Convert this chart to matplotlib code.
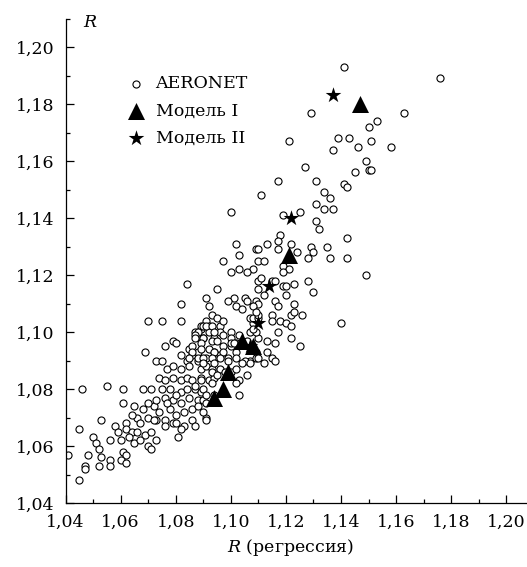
import matplotlib
matplotlib.use("Agg")
import matplotlib.pyplot as plt
from matplotlib.ticker import FuncFormatter
import numpy as np

plt.rcParams['font.family'] = ['DejaVu Serif']
plt.rcParams['mathtext.fontset'] = 'dejavuserif'

# AERONET points (x = R regression, y = R)
aeronet_top = [
    (1.141, 1.193), (1.176, 1.189), (1.163, 1.177), (1.153, 1.174), (1.150, 1.172),
    (1.139, 1.168), (1.143, 1.168), (1.137, 1.164), (1.146, 1.165), (1.151, 1.167),
    (1.158, 1.165), (1.149, 1.160), (1.150, 1.157), (1.151, 1.157), (1.145, 1.156),
    (1.129, 1.177), (1.121, 1.167), (1.127, 1.158),
]
aeronet_upper = [
    (1.117, 1.153), (1.131, 1.153), (1.141, 1.152), (1.142, 1.151), (1.111, 1.148),
    (1.134, 1.149), (1.136, 1.147), (1.131, 1.145), (1.134, 1.143), (1.137, 1.143),
    (1.119, 1.141), (1.125, 1.142), (1.131, 1.139), (1.132, 1.136), (1.118, 1.134),
    (1.117, 1.132), (1.142, 1.133), (1.113, 1.131), (1.109, 1.129), (1.110, 1.129),
    (1.117, 1.129), (1.122, 1.131), (1.129, 1.130), (1.130, 1.128), (1.128, 1.126),
    (1.135, 1.130), (1.124, 1.128), (1.136, 1.126), (1.142, 1.126), (1.110, 1.125),
    (1.112, 1.125), (1.108, 1.122), (1.119, 1.123), (1.121, 1.122), (1.119, 1.121),
    (1.110, 1.118), (1.111, 1.119), (1.128, 1.118), (1.149, 1.120), (1.115, 1.118),
    (1.116, 1.118), (1.119, 1.116), (1.120, 1.116), (1.123, 1.117), (1.110, 1.115),
    (1.112, 1.113), (1.130, 1.114), (1.120, 1.113), (1.116, 1.111), (1.117, 1.109),
    (1.109, 1.111), (1.110, 1.110), (1.123, 1.110),
    (1.100, 1.142), (1.102, 1.131), (1.103, 1.127), (1.097, 1.125), (1.100, 1.121),
    (1.103, 1.122), (1.106, 1.121), (1.101, 1.112), (1.105, 1.112),
    (1.084, 1.117), (1.095, 1.115), (1.091, 1.112),
]
aeronet_core = [
    (1.082, 1.110), (1.092, 1.109), (1.099, 1.111), (1.102, 1.109), (1.104, 1.108),
    (1.106, 1.111), (1.108, 1.109), (1.070, 1.104), (1.075, 1.104), (1.082, 1.104),
    (1.093, 1.106), (1.095, 1.105), (1.091, 1.104), (1.092, 1.102), (1.096, 1.102),
    (1.097, 1.104), (1.096, 1.100), (1.089, 1.101), (1.087, 1.100), (1.090, 1.098),
    (1.092, 1.100), (1.094, 1.098), (1.100, 1.100), (1.100, 1.098), (1.103, 1.099),
    (1.102, 1.096), (1.100, 1.095), (1.109, 1.105), (1.108, 1.103), (1.107, 1.100),
    (1.106, 1.097), (1.108, 1.094), (1.107, 1.090), (1.106, 1.085), (1.103, 1.083),
    (1.103, 1.078), (1.079, 1.097), (1.080, 1.096), (1.076, 1.095), (1.069, 1.093),
    (1.073, 1.090), (1.075, 1.090), (1.082, 1.092), (1.085, 1.094), (1.084, 1.090),
    (1.086, 1.092), (1.088, 1.093), (1.088, 1.090), (1.091, 1.091), (1.094, 1.093),
    (1.096, 1.092), (1.099, 1.091), (1.077, 1.087), (1.079, 1.088), (1.082, 1.087),
    (1.085, 1.088), (1.089, 1.087), (1.091, 1.088), (1.093, 1.087), (1.096, 1.087),
    (1.074, 1.084), (1.076, 1.083), (1.079, 1.084), (1.082, 1.083), (1.084, 1.084),
    (1.086, 1.083), (1.089, 1.084), (1.092, 1.083), (1.094, 1.084), (1.068, 1.080),
    (1.071, 1.080), (1.075, 1.080), (1.078, 1.080), (1.082, 1.079), (1.084, 1.080),
    (1.087, 1.080), (1.089, 1.079), (1.076, 1.077), (1.079, 1.076), (1.082, 1.075),
    (1.085, 1.077), (1.088, 1.076), (1.090, 1.076), (1.065, 1.074), (1.068, 1.073),
    (1.072, 1.074), (1.074, 1.072), (1.078, 1.073), (1.080, 1.071), (1.083, 1.072),
    (1.086, 1.073), (1.088, 1.074), (1.091, 1.070), (1.066, 1.070), (1.070, 1.070),
    (1.073, 1.069), (1.076, 1.069), (1.079, 1.068), (1.083, 1.067), (1.086, 1.069),
    (1.087, 1.067),
]
aeronet_core2 = [
    (1.089, 1.102), (1.090, 1.102), (1.091, 1.102), (1.093, 1.102), (1.088, 1.100),
    (1.094, 1.100), (1.097, 1.099), (1.087, 1.099), (1.087, 1.098), (1.090, 1.098),
    (1.093, 1.097), (1.095, 1.097), (1.100, 1.096), (1.101, 1.096), (1.089, 1.096),
    (1.086, 1.095), (1.097, 1.095), (1.086, 1.093), (1.089, 1.094), (1.092, 1.094),
    (1.094, 1.093), (1.097, 1.093), (1.102, 1.093), (1.085, 1.091), (1.088, 1.091),
    (1.090, 1.091), (1.093, 1.091), (1.096, 1.091), (1.099, 1.090), (1.102, 1.091),
    (1.105, 1.090), (1.104, 1.089), (1.090, 1.089), (1.094, 1.089), (1.098, 1.086),
    (1.100, 1.086), (1.102, 1.087), (1.093, 1.086), (1.095, 1.085), (1.089, 1.083),
    (1.093, 1.082), (1.102, 1.082), (1.090, 1.080), (1.091, 1.078), (1.094, 1.078),
    (1.091, 1.075), (1.090, 1.072), (1.091, 1.069), (1.087, 1.081), (1.109, 1.093),
    (1.109, 1.091), (1.110, 1.091), (1.107, 1.089), (1.110, 1.098), (1.109, 1.100),
    (1.108, 1.101), (1.107, 1.105), (1.108, 1.105), (1.110, 1.105),
]
aeronet_low = [
    (1.046, 1.080), (1.055, 1.081), (1.061, 1.080), (1.061, 1.075), (1.062, 1.068),
    (1.053, 1.069), (1.058, 1.067), (1.059, 1.065), (1.062, 1.066), (1.064, 1.065),
    (1.066, 1.065), (1.069, 1.064), (1.071, 1.065), (1.073, 1.062), (1.045, 1.066),
    (1.050, 1.063), (1.051, 1.061), (1.052, 1.059), (1.056, 1.062), (1.060, 1.062),
    (1.063, 1.063), (1.065, 1.061), (1.067, 1.062), (1.070, 1.060), (1.071, 1.059),
    (1.061, 1.058), (1.062, 1.057), (1.060, 1.055), (1.062, 1.054), (1.041, 1.057),
    (1.048, 1.057), (1.047, 1.053), (1.047, 1.052), (1.053, 1.056), (1.052, 1.053),
    (1.056, 1.055), (1.056, 1.053), (1.045, 1.048), (1.081, 1.063), (1.082, 1.066),
    (1.064, 1.071), (1.067, 1.068), (1.072, 1.069), (1.070, 1.075), (1.073, 1.076),
    (1.077, 1.075), (1.080, 1.078), (1.076, 1.067), (1.080, 1.068),
]
aeronet_right = [
    (1.115, 1.106), (1.122, 1.106), (1.126, 1.106), (1.140, 1.103), (1.118, 1.104),
    (1.115, 1.104), (1.120, 1.103), (1.122, 1.102), (1.117, 1.100), (1.122, 1.098),
    (1.113, 1.097), (1.125, 1.095), (1.116, 1.096), (1.113, 1.093), (1.115, 1.091),
    (1.116, 1.090), (1.112, 1.089), (1.123, 1.107), (1.110, 1.106), (1.109, 1.107),
]

# model results
model1_x = [1.147, 1.121, 1.104, 1.108, 1.099, 1.097, 1.094]
model1_y = [1.180, 1.127, 1.097, 1.095, 1.086, 1.080, 1.077]
model2_x = [1.137, 1.122, 1.114, 1.110, 1.107]
model2_y = [1.183, 1.140, 1.116, 1.103, 1.095]

ticks = [1.04, 1.06, 1.08, 1.10, 1.12, 1.14, 1.16, 1.18, 1.20]

aer = np.array(aeronet_top + aeronet_upper + aeronet_core + aeronet_core2
               + aeronet_low + aeronet_right)

fig = plt.figure(figsize=(5.27, 5.67), dpi=100)
ax = fig.add_axes([65.5 / 527, 64 / 567, 1 - 65.5 / 527, 484.5 / 567])

ax.scatter(aer[:, 0], aer[:, 1], s=26, facecolors='white', edgecolors='black',
           linewidths=0.8, label='AERONET', zorder=2)
ax.scatter(model1_x, model1_y, marker='^', s=150, color='black', linewidths=0,
           label='Модель I', zorder=3)
ax.scatter(model2_x, model2_y, marker='*', s=140, color='black', linewidths=0,
           label='Модель II', zorder=4)

ax.set_xlim(1.04, 1.2075)
ax.set_ylim(1.04, 1.21)
ax.set_xticks(ticks)
ax.set_yticks(ticks)
ax.set_xticks(np.arange(1.05, 1.20, 0.02), minor=True)
ax.set_yticks(np.arange(1.05, 1.215, 0.02), minor=True)
fmt = FuncFormatter(lambda v, p: f"{v:.2f}".replace('.', ','))
ax.xaxis.set_major_formatter(fmt)
ax.yaxis.set_major_formatter(fmt)
ax.tick_params(which='both', direction='in', width=0.9, labelsize=12.5)
ax.tick_params(which='major', length=6)
ax.tick_params(which='minor', length=3)
ax.tick_params(axis='x', which='major', pad=8)
ax.tick_params(axis='y', which='major', pad=8)
for s in ['top', 'right']:
    ax.spines[s].set_visible(False)
for s in ['left', 'bottom']:
    ax.spines[s].set_linewidth(0.9)

ax.text(1.0465, 1.2085, 'R', style='italic', fontsize=12.5, va='center', ha='left')
fig.text(290 / 527, 1 - 548 / 567, '$R$ (регрессия)', fontsize=12.5,
         ha='center', va='center')

ax.legend(loc='upper left', bbox_to_anchor=(0.135, 0.883), frameon=False,
          fontsize=12.5, handlelength=1.0, handletextpad=0.6, labelspacing=0.6,
          borderpad=0, borderaxespad=0, scatterpoints=1)

fig.savefig('out.png', dpi=100)
